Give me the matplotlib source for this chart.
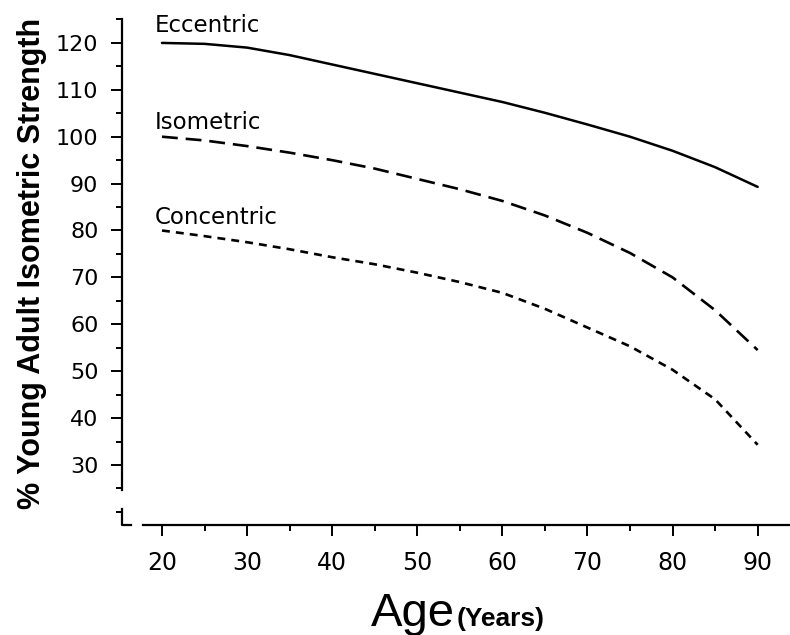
import matplotlib
matplotlib.use("Agg")
import matplotlib.pyplot as plt
from matplotlib.ticker import MultipleLocator

plt.rcParams["font.family"] = ["Liberation Sans", "DejaVu Sans"]

# values, every 5 years
age = [20, 25, 30, 35, 40, 45, 50, 55, 60, 65, 70, 75, 80, 85, 90]
eccentric = [120.0, 119.8, 119.0, 117.4, 115.4, 113.4, 111.4, 109.4,
             107.4, 105.1, 102.6, 100.0, 97.0, 93.5, 89.3]
isometric = [100.0, 99.2, 98.0, 96.6, 95.0, 93.2, 91.0, 88.8,
             86.3, 83.2, 79.5, 75.2, 70.0, 63.0, 54.5]
concentric = [80.0, 78.8, 77.5, 76.0, 74.3, 72.8, 71.0, 69.0,
              66.7, 63.3, 59.3, 55.3, 50.3, 44.0, 34.3]
series_names = ["Eccentric", "Isometric", "Concentric"]
y_ticks = [30, 40, 50, 60, 70, 80, 90, 100, 110, 120]
x_ticks = [20, 30, 40, 50, 60, 70, 80, 90]

fig = plt.figure(figsize=(7.9, 6.35), dpi=100)
ax = fig.add_axes([122 / 790, 110 / 635, 668 / 790, 506 / 635])

ax.plot(age, eccentric, color="black", lw=1.8, solid_capstyle="round")
ax.plot(age, isometric, color="black", lw=1.9, dashes=(6, 3.0))
ax.plot(age, concentric, color="black", lw=1.9, dashes=(3.0, 2.3))

# curve labels sit just above the start of each curve
label_raise = [3.8, 3.0, 2.8]
for name, vals, dy in zip(series_names, [eccentric, isometric, concentric],
                          label_raise):
    ax.text(age[0] - 0.8, vals[0] + dy, name, fontsize=16.5,
            family="DejaVu Sans", ha="left", va="center")

ax.set_xlim(15.3, 93.8)
ax.set_ylim(17.2, 125.1)

for side in ("top", "right"):
    ax.spines[side].set_visible(False)
ax.spines["left"].set_bounds(24.6, 125.1)
ax.spines["bottom"].set_bounds(17.8, 93.8)
ax.spines["left"].set_linewidth(1.6)
ax.spines["bottom"].set_linewidth(1.6)

# axis break mark in the corner
ax.plot([15.3, 15.3, 16.3], [20.6, 17.2, 17.2], color="black", lw=1.6,
        clip_on=False)

ax.set_yticks(y_ticks)
ax.set_xticks(x_ticks)
ax.yaxis.set_minor_locator(MultipleLocator(5))
ax.xaxis.set_minor_locator(MultipleLocator(5))
ax.tick_params(axis="y", which="major", length=8, width=1.4, pad=9,
               labelsize=16)
ax.tick_params(axis="y", which="minor", length=4, width=1.4)
ax.tick_params(axis="x", which="major", length=8, width=1.4, pad=11,
               labelsize=17)
ax.tick_params(axis="x", which="minor", length=4.5, width=1.4)
for lbl in ax.get_xticklabels() + ax.get_yticklabels():
    lbl.set_family("DejaVu Sans")

fig.text(32 / 790, 1 - 263 / 635, "% Young Adult Isometric Strength",
         rotation=90, fontsize=22, fontweight="bold",
         ha="center", va="center")
fig.text(455 / 790, 1 - 626 / 635, "Age", fontsize=34, ha="right",
         va="baseline")
fig.text(457 / 790, 1 - 626 / 635, "(Years)", fontsize=19,
         fontweight="bold", ha="left", va="baseline")

fig.savefig("out.png", dpi=100)
plt.close(fig)
